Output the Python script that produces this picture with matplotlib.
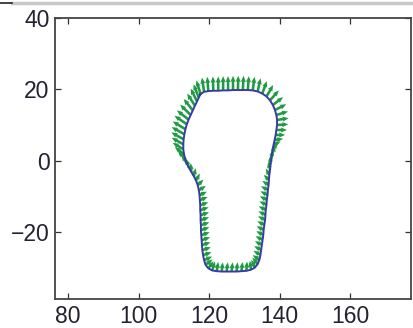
import matplotlib
matplotlib.use("Agg")
import matplotlib.pyplot as plt
from matplotlib.lines import Line2D

# Contour points (data units), clockwise from top-left
cx = [117.6, 118.6, 119.8, 121.2, 122.6, 124.0, 125.4, 126.8, 128.2, 129.6, 131.0, 132.4, 133.8,
      135.1, 136.3, 137.3, 138.1, 138.7, 139.1, 139.3, 139.3, 139.1, 138.9, 138.6, 138.3, 138.0,
      137.8, 137.6, 137.4, 137.3, 137.1, 137.0, 136.9, 136.7, 136.6, 136.4, 136.3, 136.1, 136.0,
      135.9, 135.7, 135.5, 135.4, 135.2, 135.0, 134.8, 134.6, 134.3, 133.8, 133.0, 131.9, 130.6,
      129.2, 127.8, 126.4, 125.0, 123.6, 122.2, 120.9, 119.8, 119.0, 118.6, 118.3, 118.1, 118.0,
      117.9, 117.8, 117.7, 117.7, 117.6, 117.6, 117.5, 117.5, 117.4, 117.3, 117.1, 116.8, 116.3,
      115.7, 115.0, 114.3, 113.7, 113.2, 112.9, 112.7, 112.7, 112.8, 113.0, 113.3, 113.7, 114.2,
      114.8, 115.4, 116.0, 116.6, 117.1]
cy = [18.7, 19.3, 19.5, 19.6, 19.6, 19.7, 19.7, 19.8, 19.8, 19.8, 19.8, 19.7, 19.4,
      18.8, 18.0, 16.9, 15.6, 14.2, 12.8, 11.4, 10.0, 8.6, 7.2, 5.8, 4.4, 3.0,
      1.6, 0.2, -1.2, -2.6, -4.0, -5.4, -6.8, -8.2, -9.6, -11.0, -12.4, -13.8, -15.2,
      -16.6, -18.0, -19.4, -20.8, -22.2, -23.6, -25.0, -26.4, -27.8, -29.0, -30.0, -30.6, -30.9,
      -31.0, -31.1, -31.1, -31.1, -31.1, -31.0, -30.8, -30.2, -29.2, -27.9, -26.5, -25.1, -23.7,
      -22.3, -20.9, -19.5, -18.1, -16.7, -15.3, -13.9, -12.5, -11.1, -9.7, -8.3, -6.9, -5.6,
      -4.4, -3.2, -2.0, -0.8, 0.5, 1.8, 3.2, 4.6, 6.0, 7.4, 8.8, 10.2, 11.5,
      12.8, 14.1, 15.4, 16.6, 17.7]
# Arrow components at each contour point
au = [-1.2, -0.6, -0.3, -0.1, 0.0, 0.0, 0.0, 0.0, 0.1, 0.2, 0.3, 0.5, 0.8,
      1.3, 1.9, 2.5, 2.9, 3.2, 3.3, 3.3, 3.2, 3.0, 2.7, 2.4, 2.0, 1.5,
      1.0, 0.5, 0.0, -0.5, -1.0, -1.5, -1.8, -2.0, -2.0, -2.0, -2.0, -2.0, -2.0,
      -2.0, -2.0, -2.0, -2.0, -2.0, -2.0, -2.0, -2.0, -1.9, -1.5, -1.0, -0.3, 0.2,
      0.3, 0.3, 0.3, 0.3, 0.3, 0.4, 0.8, 1.5, 2.0, 2.3, 2.4, 2.4, 2.4,
      2.4, 2.4, 2.4, 2.4, 2.4, 2.4, 2.4, 2.3, 2.2, 2.1, 2.0, 1.6, 1.1,
      0.5, -0.2, -0.8, -1.4, -2.0, -2.6, -3.0, -3.3, -3.5, -3.6, -3.6, -3.5, -3.3,
      -3.0, -2.6, -2.2, -1.8, -1.5]
av = [3.8, 4.0, 4.0, 4.0, 4.0, 4.0, 4.0, 4.0, 4.0, 4.0, 3.9, 3.8, 3.7,
      3.5, 3.2, 2.8, 2.2, 1.6, 1.0, 0.5, 0.2, 0.0, 0.0, 0.3, 1.0, 2.0,
      2.6, 2.8, 2.6, 2.3, 1.8, 1.4, 1.1, 1.0, 1.0, 1.0, 1.0, 1.0, 1.0,
      1.0, 1.0, 1.0, 1.0, 1.0, 1.0, 1.0, 1.1, 1.3, 1.8, 2.2, 2.5, 2.6,
      2.6, 2.6, 2.6, 2.6, 2.6, 2.6, 2.5, 2.0, 1.5, 1.0, 0.8, 0.8, 0.8,
      0.8, 0.8, 0.8, 0.8, 0.8, 0.8, 0.8, 0.8, 0.9, 1.0, 1.2, 1.6, 2.0,
      2.3, 2.5, 2.5, 2.4, 2.2, 2.0, 1.8, 1.8, 1.9, 2.0, 2.2, 2.4, 2.6,
      2.9, 3.2, 3.4, 3.6, 3.7]

xticks = [80, 100, 120, 140, 160]
yticks = [-20, 0, 20, 40]

plt.rcParams['font.family'] = ['Liberation Sans', 'DejaVu Sans']

fig = plt.figure(figsize=(4.13, 3.28), dpi=100)
ax = fig.add_axes([55/413, 1-299/328, (411-55)/413, (299-18)/328])

ax.quiver(cx, cy, au, av, angles='xy', scale_units='xy', scale=1,
          color='#1e9a42', width=0.0072, headwidth=2.0, headlength=2.4,
          headaxislength=2.2, zorder=2)
ax.plot(cx + cx[:1], cy + cy[:1], color='#3a3aa6', lw=1.4, zorder=3)

ax.set_xlim(76.3, 177.3)
ax.set_ylim(-38.8, 40)
ax.set_xticks(xticks)
ax.set_yticks(yticks)
ax.set_xticklabels([str(t) for t in xticks])
ax.set_yticklabels([f"\u2212{-t}" if t < 0 else str(t) for t in yticks])
ax.tick_params(direction='in', length=4, width=0.9, top=True, right=True,
               labelsize=16.5, colors='#333333', labelcolor='#222233', pad=4)
for s in ax.spines.values():
    s.set_linewidth(1.3)
    s.set_color('#444444')

# thin rule at the very top of the figure
fig.add_artist(Line2D([12/413, 1], [1-3/328, 1-3/328], transform=fig.transFigure,
                      color='#c8c8c8', lw=2.5))
fig.add_artist(Line2D([0, 12/413], [1-3/328, 1-3/328], transform=fig.transFigure,
                      color='#222222', lw=1.2))

fig.savefig('out.png', dpi=100)
